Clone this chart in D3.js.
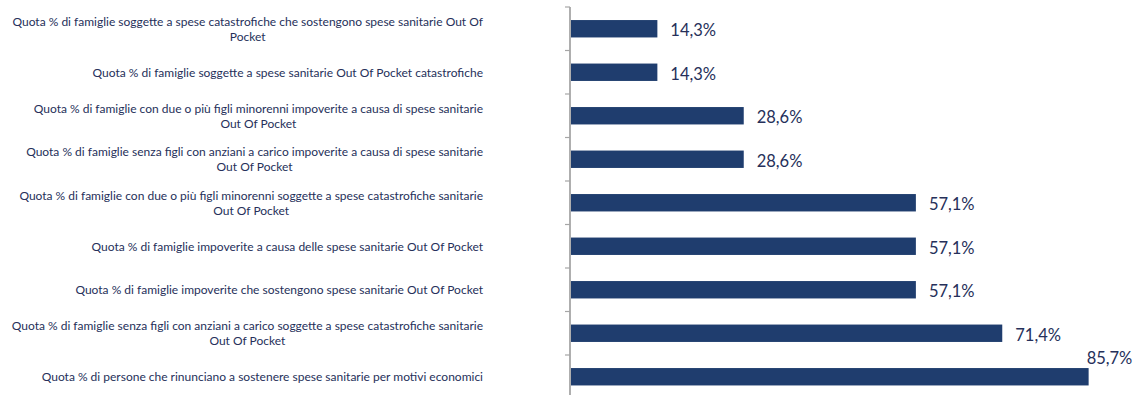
<!DOCTYPE html>
<html>
<head>
<meta charset="utf-8">
<script src="https://cdn.jsdelivr.net/npm/d3@7"></script>
<style>
  body { margin: 0; background: #fff; }
  svg { display: block; }
  .cat-label { font-family: Lato, "Open Sans", sans-serif; font-size: 12px; fill: #26305a; }
  .val-label { font-family: Lato, "Open Sans", sans-serif; font-size: 16.5px; fill: #26305a; }
</style>
</head>
<body>
<svg id="chart"></svg>
<script>
// categories, top to bottom (line breaks as in the original labels)
const categories = [
  'Quota % di famiglie soggette a spese catastrofiche che sostengono spese sanitarie Out Of\nPocket',
  'Quota % di famiglie soggette a spese sanitarie Out Of Pocket catastrofiche',
  'Quota % di famiglie con due o più figli minorenni impoverite a causa di spese sanitarie\nOut Of Pocket',
  'Quota % di famiglie senza figli con anziani a carico impoverite a causa di spese sanitarie\nOut Of Pocket',
  'Quota % di famiglie con due o più figli minorenni soggette a spese catastrofiche sanitarie\nOut Of Pocket',
  'Quota % di famiglie impoverite a causa delle spese sanitarie Out Of Pocket',
  'Quota % di famiglie impoverite che sostengono spese sanitarie Out Of Pocket',
  'Quota % di famiglie senza figli con anziani a carico soggette a spese catastrofiche sanitarie\nOut Of Pocket',
  'Quota % di persone che rinunciano a sostenere spese sanitarie per motivi economici'
];
const values = [14.3, 14.3, 28.6, 28.6, 57.1, 57.1, 57.1, 71.4, 85.7];

const W = 1145, H = 395;
const svg = d3.select('#chart').attr('width', W).attr('height', H);

const data = categories.map((c, i) => ({cat: c, value: values[i]}));

const axisX = 570;
const x = d3.scaleLinear().domain([0, 90]).range([axisX + 1, axisX + 1 + 543.6]);
const y = d3.scaleBand()
  .domain(data.map(d => d.cat))
  .range([7, 398.5])
  .paddingInner(0.6)
  .paddingOuter(0.3);

const it = d3.formatLocale({decimal: ',', thousands: '.', grouping: [3], currency: ['', '€']});
const fmt = v => it.format('.1f')(v) + '%';

//bars
svg.append('g').selectAll('rect')
  .data(data)
  .join('rect')
  .attr('x', x(0))
  .attr('y', d => y(d.cat))
  .attr('width', d => x(d.value) - x(0))
  .attr('height', y.bandwidth())
  .attr('fill', '#1f3d6e');

// axis line + ticks at band boundaries
const step = y.step();
const bounds = data.map(d => y(d.cat) + y.bandwidth() / 2 - step / 2);
bounds.push(y(data[data.length - 1].cat) + y.bandwidth() / 2 + step / 2);

const ax = svg.append('g');
ax.append('line')
  .attr('x1', axisX).attr('x2', axisX)
  .attr('y1', bounds[0]).attr('y2', bounds[bounds.length - 1])
  .attr('stroke', '#a6a6a6').attr('stroke-width', 1.8);
ax.selectAll('line.tick')
  .data(bounds)
  .join('line')
  .attr('class', 'tick')
  .attr('x1', axisX - 5).attr('x2', axisX)
  .attr('y1', d => d).attr('y2', d => d)
  .attr('stroke', '#a6a6a6').attr('stroke-width', 1.2);

// category labels, block right aligned, lines centred to each other
const lineH = 15;
const labels = svg.append('g').selectAll('text')
  .data(data)
  .join('text')
  .attr('class', 'cat-label')
  .attr('text-anchor', 'middle');

labels.each(function(d) {
  const t = d3.select(this);
  const lines = d.cat.split('\n');
  const cy = y(d.cat) + y.bandwidth() / 2;
  lines.forEach((ln, i) => {
    t.append('tspan')
      .attr('y', cy + (i - (lines.length - 1) / 2) * lineH + 4.6)
      .text(ln);
  });
  // measure widest line, then place the block so its right edge sits at 483
  const widths = t.selectAll('tspan').nodes().map(n => n.getComputedTextLength());
  const maxW = d3.max(widths);
  t.selectAll('tspan').attr('x', 483 - maxW / 2);
});

//value labels
svg.append('g').selectAll('text')
  .data(data)
  .join('text')
  .attr('class', 'val-label')
  .text(d => fmt(d.value))
  .each(function(d) {
    const t = d3.select(this);
    const w = this.getComputedTextLength();
    const end = x(d.value);
    if (end + 13 + w > W - 4) {
      // no room on the right: put it above the bar end
      t.attr('x', end - 2).attr('y', y(d.cat) - 4);
    } else {
      t.attr('x', end + 13).attr('y', y(d.cat) + y.bandwidth() / 2 + 7.5);
    }
  });
</script>
</body>
</html>
